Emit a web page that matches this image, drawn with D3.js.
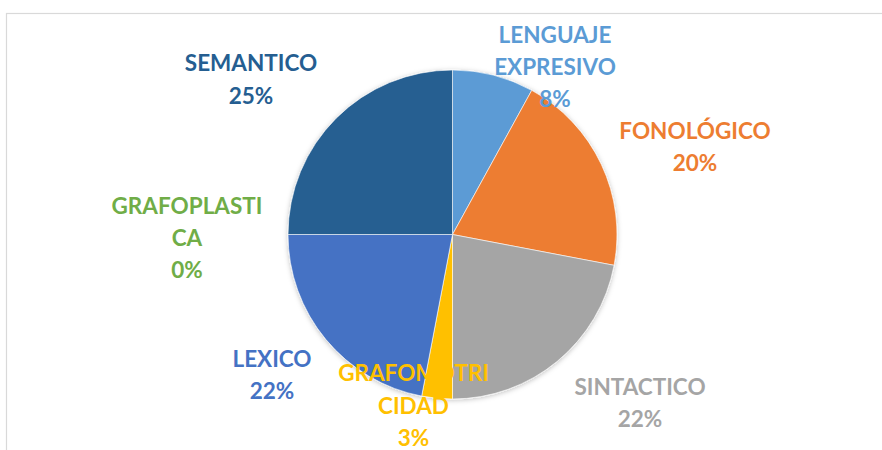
<!DOCTYPE html>
<html>
<head>
<meta charset="utf-8">
<script src="https://cdn.jsdelivr.net/npm/d3@7"></script>
<style>
  body { margin: 0; background: #fff; }
  .lbl { font-family: Lato, "Open Sans", sans-serif; font-weight: bold; font-size: 22.5px; }
</style>
</head>
<body>
<div class="chart"></div>
<script>
// data (clockwise from 12 o'clock)
var categories = ["LENGUAJE EXPRESIVO", "FONOLÓGICO", "SINTACTICO", "GRAFOMOTRICIDAD", "LEXICO", "GRAFOPLASTICA", "SEMANTICO"]
var values = [8, 20, 22, 3, 22, 0, 25]
var colors = ["#5B9BD5", "#ED7D31", "#A5A5A5", "#FFC000", "#4472C4", "#70AD47", "#255E91"]
// how each category name is broken over lines in the labels
var labelLines = [["LENGUAJE", "EXPRESIVO"], ["FONOLÓGICO"], ["SINTACTICO"], ["GRAFOMOTRI", "CIDAD"], ["LEXICO"], ["GRAFOPLASTI", "CA"], ["SEMANTICO"]]

var width = 882, height = 450
var cx = 452.5, cy = 234.5, radius = 164.5
// label anchor (centre x, first line centre y)
var labelPos = [[555, 35], [695, 131], [640, 387], [413.5, 373.5], [272, 359], [187, 206], [251, 63.5]]
var lineH = 32.3

var svg = d3.select(".chart").append("svg")
    .attr("width", width)
    .attr("height", height)

// chart frame
svg.append("rect")
    .attr("x", 6.5).attr("y", 13.5)
    .attr("width", 1000).attr("height", 600)
    .attr("fill", "none")
    .attr("stroke", "#d9d9d9")
    .attr("stroke-width", 1.2)

var defs = svg.append("defs")
var f = defs.append("filter").attr("id", "shadow")
    .attr("x", "-10%").attr("y", "-10%").attr("width", "120%").attr("height", "120%")
f.append("feDropShadow")
    .attr("dx", 0).attr("dy", 1)
    .attr("stdDeviation", 2.5)
    .attr("flood-color", "#000")
    .attr("flood-opacity", 0.25)

var data = categories.map(function(c, i) {
    return { name: c, value: values[i], color: colors[i], lines: labelLines[i] }
})

var pie = d3.pie().sort(null).value(function(d) { return d.value })
var arc = d3.arc().innerRadius(0).outerRadius(radius)

var g = svg.append("g")
    .attr("transform", "translate(" + cx + "," + cy + ")")
    .attr("filter", "url(#shadow)")

g.selectAll("path")
    .data(pie(data))
    .enter()
    .append("path")
    .attr("d", arc)
    .style("fill", function(d) { return d.data.color })
    .style("stroke", "#fff")
    .style("stroke-width", function(d) { return d.data.value > 0 ? 0.6 : 0 })

// labels
var labels = svg.selectAll("text.lbl")
    .data(data)
    .enter()
    .append("text")
    .attr("class", "lbl")
    .attr("text-anchor", "middle")
    .style("fill", function(d) { return d.color })

labels.each(function(d, i) {
    var t = d3.select(this)
    var rows = d.lines.concat([d.value + "%"])
    rows.forEach(function(r, j) {
        t.append("tspan")
            .attr("x", labelPos[i][0])
            .attr("y", labelPos[i][1] + j * lineH)
            .attr("dy", "0.35em")
            .text(r)
    })
})
</script>
</body>
</html>
